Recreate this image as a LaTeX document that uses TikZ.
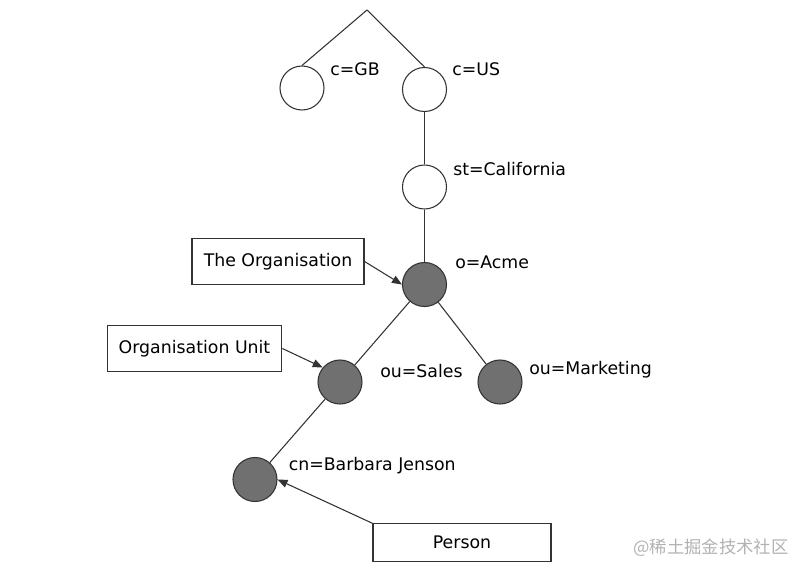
\documentclass[tikz,border=0pt]{standalone}
\usepackage{fontspec}
\setmainfont{DejaVu Sans}
\newfontfamily\cjkfont{Noto Sans CJK SC}
\usetikzlibrary{graphs}
\usetikzlibrary{arrows.meta}

\begin{document}
\begin{tikzpicture}[x=0.75pt, y=-0.75pt, font=\fontsize{13}{15}\selectfont,
        entry/.style={circle, draw=black!80, line width=0.8pt, minimum size=33pt, inner sep=0pt},
        filled entry/.style={entry, fill=black!56},
        rdn/.style={anchor=west, inner sep=0pt},
        tag/.style={draw=black!80, line width=0.8pt, minimum height=35pt, inner sep=0pt},
        tree/.style={draw=black!80, line width=0.8pt},
        pointer/.style={tree, -{Triangle[length=7.5pt, width=6pt]}}]
        \useasboundingbox (0,0) rectangle (804,576);

        \coordinate (root) at (367,10);
        \node[entry] (c gb) at (302,88) {};
        \node[entry] (c us) at (424.5,89.5) {};
        \node[entry] (st ca) at (424.5,187) {};
        \node[filled entry] (o acme) at (424.5,284.5) {};
        \node[filled entry] (ou sales) at (340,382) {};
        \node[filled entry] (ou marketing) at (500,382) {};
        \node[filled entry] (cn barbara) at (255,479.5) {};

        % entry names
        \node[rdn] (c gb name) at (330,69) {c=GB};
        \node[rdn] (c us name) at (452,69.5) {c=US};
        \node[rdn] (st ca name) at (453,169) {st=California};
        \node[rdn] (o acme name) at (455,262.5) {o=Acme};
        \node[rdn] (ou sales name) at (380,371) {ou=Sales};
        \node[rdn] (ou marketing name) at (529,370) {ou=Marketing};
        \node[rdn] (cn barbara name) at (288.5,466) {cn=Barbara Jenson};

        % callouts
        \node[tag, minimum width=129pt] (org box) at (278,261.5) {The Organisation};
        \node[tag, minimum width=131pt] (unit box) at (194.5,348.5) {Organisation Unit};
        \node[tag, minimum width=133.5pt, minimum height=28pt] (person box) at (462,542.5) {Person};

        \node[anchor=west, inner sep=0pt, text=black!30, font=\cjkfont\fontsize{13}{15}\selectfont] (mark) at (633,548) {@稀土掘金技术社区};

        \draw[tree] (root) -- (c gb.north);
        \draw[tree] (root) -- (c us.north);
        \graph { [edges={tree}]
            (c us) -- (st ca) -- (o acme) -- {(ou sales), (ou marketing)},
            (ou sales) -- (cn barbara),
        };
        \draw[pointer] (org box.east) -- (o acme.west);
        \draw[pointer] (unit box.east) -- (ou sales.140);
        \draw[pointer] (person box.north west) -- (cn barbara.east);
    \end{tikzpicture}
\end{document}
